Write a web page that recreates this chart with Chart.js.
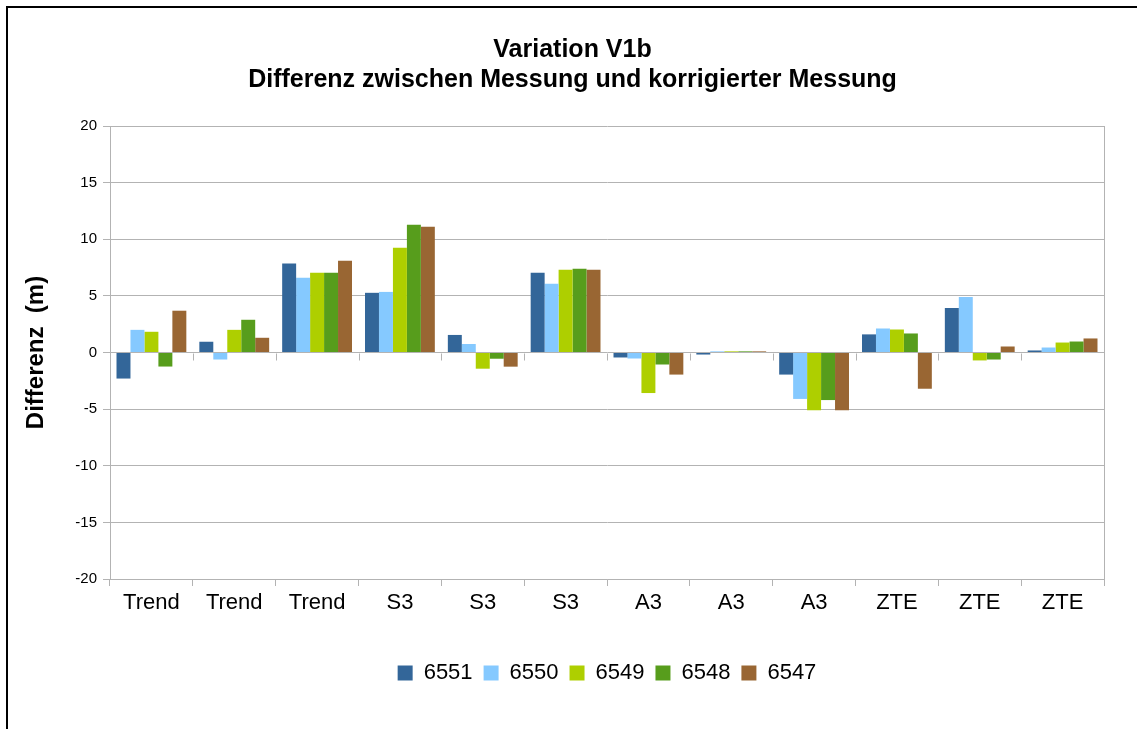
<!DOCTYPE html>
<html>
<head>
<meta charset="utf-8">
<script src="https://cdn.jsdelivr.net/npm/chart.js"></script>
<style>
  body { margin: 0; background: #fff; }
  #wrap { position: relative; width: 1137px; height: 729px; }
  #frame { position: absolute; left: 6px; top: 6px; right: -4px; bottom: -4px; border-top: 2px solid #000; border-left: 2px solid #000; pointer-events: none; }
</style>
</head>
<body>
<div id="wrap">
  <canvas id="chart" width="1137" height="729"></canvas>
  <div id="frame"></div>
</div>
<script>
const categories = ["Trend", "Trend", "Trend", "S3", "S3", "S3", "A3", "A3", "A3", "ZTE", "ZTE", "ZTE"];
const s6551 = [-2.3, 0.95, 7.85, 5.27, 1.55, 7.04, -0.44, -0.18, -1.95, 1.6, 3.93, 0.18];
const s6550 = [2.0, -0.62, 6.61, 5.35, 0.75, 6.06, -0.53, 0.1, -4.1, 2.12, 4.9, 0.44];
const s6549 = [1.83, 2.0, 7.05, 9.25, -1.43, 7.3, -3.58, 0.1, -5.1, 2.03, -0.7, 0.88];
const s6548 = [-1.24, 2.89, 7.05, 11.28, -0.55, 7.39, -1.06, 0.1, -4.2, 1.68, -0.62, 0.97];
const s6547 = [3.69, 1.3, 8.11, 11.1, -1.25, 7.3, -1.95, 0.1, -5.1, -3.2, 0.53, 1.24];
const yTicks = [-20, -15, -10, -5, 0, 5, 10, 15, 20];

const gridGray = "#b3b3b3";
const font = "'Liberation Sans', Arial, sans-serif";

// right frame of the plot and the small ticks on the zero line
const plotExtras = {
  id: "plotExtras",
  afterDraw(chart) {
    const ctx = chart.ctx;
    const a = chart.chartArea;
    const x = chart.scales.x, y = chart.scales.y;
    ctx.save();
    ctx.strokeStyle = gridGray;
    ctx.lineWidth = 1;
    ctx.beginPath();
    ctx.moveTo(Math.round(a.right) + 0.5, a.top);
    ctx.lineTo(Math.round(a.right) + 0.5, a.bottom);
    const y0 = Math.round(y.getPixelForValue(0)) + 0.5;
    for (let i = 0; i <= categories.length; i++) {
      const px = Math.round(x.getPixelForValue(i - 0.5)) + 0.5;
      ctx.moveTo(px, y0);
      ctx.lineTo(px, y0 + 7);
    }
    ctx.stroke();
    ctx.restore();
  }
};

const ctx = document.getElementById("chart").getContext("2d");
new Chart(ctx, {
  type: "bar",
  data: {
    labels: categories,
    datasets: [
      { label: "6551", data: s6551, backgroundColor: "#336699" },
      { label: "6550", data: s6550, backgroundColor: "#85c9ff" },
      { label: "6549", data: s6549, backgroundColor: "#aecf00" },
      { label: "6548", data: s6548, backgroundColor: "#579d1c" },
      { label: "6547", data: s6547, backgroundColor: "#996633" }
    ]
  },
  options: {
    responsive: false,
    animation: false,
    datasets: { bar: { categoryPercentage: 0.843, barPercentage: 1, borderWidth: 0 } },
    layout: { padding: { left: 8, right: 0, top: 0, bottom: 35 } },
    plugins: {
      title: {
        display: true,
        text: ["Variation V1b", "Differenz zwischen Messung und korrigierter Messung"],
        color: "#000",
        font: { family: font, size: 25, weight: "bold", lineHeight: 1.2 },
        padding: { top: 35, bottom: 31 }
      },
      legend: {
        position: "bottom",
        fullSize: false,
        labels: {
          color: "#000",
          font: { family: font, size: 22 },
          boxWidth: 15,
          boxHeight: 15,
          padding: 11
        }
      },
      tooltip: { enabled: false }
    },
    scales: {
      x: {
        offset: true,
        grid: { offset: true, drawOnChartArea: false, drawTicks: true, tickLength: 7, color: gridGray },
        border: { color: gridGray },
        ticks: { color: "#000", font: { family: font, size: 22 }, padding: 4, maxRotation: 0, autoSkip: false },
        afterFit(s) { s.height = 72; }
      },
      y: {
        min: -20,
        max: 20,
        afterBuildTicks(s) { s.ticks = yTicks.map(v => ({ value: v })); },
        grid: { color: gridGray, tickLength: 7 },
        border: { color: gridGray },
        ticks: { color: "#000", font: { family: font, size: 15 }, padding: 6 },
        title: {
          display: true,
          text: "Differenz  (m)",
          color: "#000",
          font: { family: font, size: 24, weight: "bold" },
          padding: { top: 14, bottom: 0 }
        },
        afterFit(s) { s.width = 102; }
      },
      // empty margin on the right so the title centres on the whole frame
      yRight: {
        position: "right",
        min: -20,
        max: 20,
        grid: { display: false },
        border: { display: false },
        ticks: { display: false },
        afterFit(s) { s.width = 33; }
      }
    }
  },
  plugins: [plotExtras]
});
</script>
</body>
</html>
